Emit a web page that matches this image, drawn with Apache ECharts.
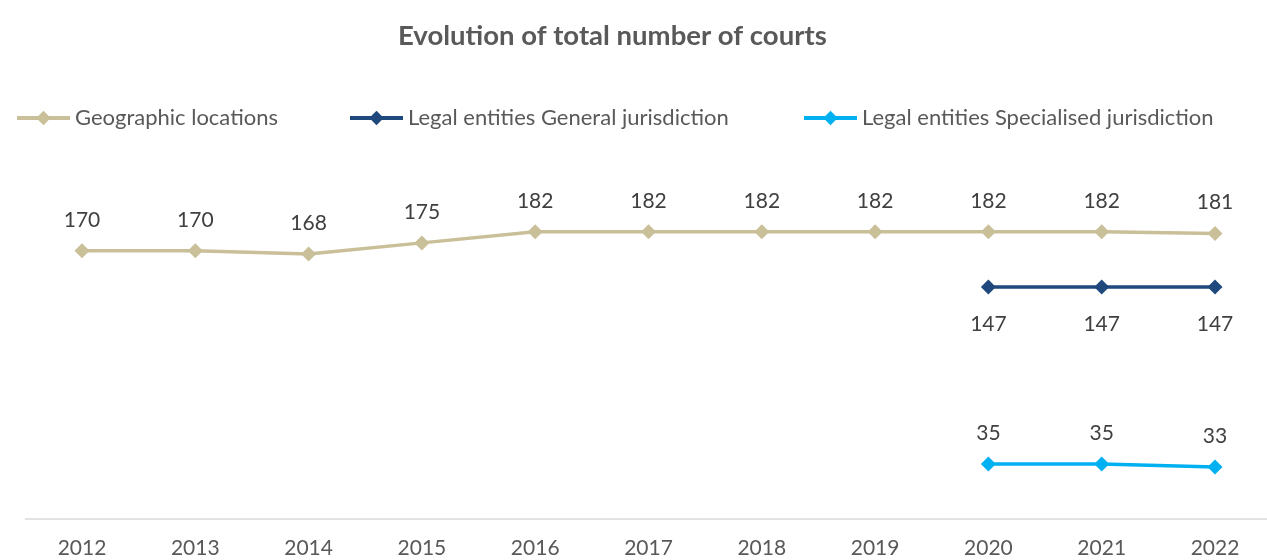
<!DOCTYPE html>
<html>
<head>
<meta charset="utf-8">
<script src="https://cdn.jsdelivr.net/npm/echarts@6/dist/echarts.min.js"></script>
<style>
html,body{margin:0;padding:0;background:#fff;overflow:hidden;}
#c{width:1272px;height:560px;}
</style>
</head>
<body>
<div id="c"></div>
<script>
const years = ['2012','2013','2014','2015','2016','2017','2018','2019','2020','2021','2022'];
const geographic = [170,170,168,175,182,182,182,182,182,182,181];
const general = [null,null,null,null,null,null,null,null,147,147,147];
const specialised = [null,null,null,null,null,null,null,null,35,35,33];
const seriesNames = ['Geographic locations','Legal entities General jurisdiction','Legal entities Specialised jurisdiction'];

const FONT = 'Lato';
const chart = echarts.init(document.getElementById('c'), null, {renderer:'canvas'});
const labelStyle = {show:true, fontFamily:FONT, fontSize:21, color:'#404040'};
const legendBase = {top:102, itemWidth:53, itemHeight:18, itemGap:0,
  lineStyle:{width:4},
  textStyle:{fontFamily:FONT, fontSize:22, color:'#595959', padding:[0,0,0,0]}};
chart.setOption({
  animation:false,
  title:{text:'Evolution of total number of courts', left:393, top:17,
    textStyle:{fontFamily:FONT, fontSize:27.5, fontWeight:'bold', color:'#595959'}},
  legend:[
    Object.assign({}, legendBase, {left:10, data:[seriesNames[0]]}),
    Object.assign({}, legendBase, {left:343, data:[seriesNames[1]]}),
    Object.assign({}, legendBase, {left:797, data:[seriesNames[2]]})
  ],
  grid:{left:25.35, right:0.35, top:203.4, bottom:40.8, containLabel:false},
  xAxis:{type:'category', data:years, boundaryGap:true,
    axisLine:{lineStyle:{color:'#d9d9d9', width:1.5}},
    axisTick:{show:false},
    axisLabel:{fontFamily:FONT, fontSize:21, color:'#595959', margin:19}},
  yAxis:{type:'value', min:0, max:200, show:false, splitLine:{show:false}},
  series:[
    {name:seriesNames[0], type:'line', data:geographic, symbol:'diamond', symbolSize:15,
      itemStyle:{color:'#C9BF98'}, lineStyle:{color:'#C9BF98', width:3.5},
      label:Object.assign({position:'top', distance:13}, labelStyle)},
    {name:seriesNames[1], type:'line', data:general, symbol:'diamond', symbolSize:15,
      itemStyle:{color:'#1F497D'}, lineStyle:{color:'#1F497D', width:3.5},
      label:Object.assign({position:'bottom', distance:19}, labelStyle)},
    {name:seriesNames[2], type:'line', data:specialised, symbol:'diamond', symbolSize:15,
      itemStyle:{color:'#00B0F0'}, lineStyle:{color:'#00B0F0', width:3.5},
      label:Object.assign({position:'top', distance:13}, labelStyle)}
  ]
});
</script>
</body>
</html>
